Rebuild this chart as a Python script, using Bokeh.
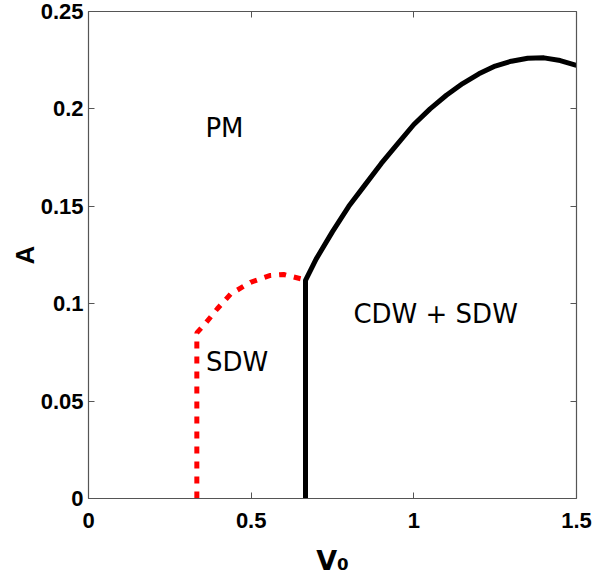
from bokeh.plotting import figure
from bokeh.models import LinearAxis, FixedTicker, Label, Range1d
from bokeh.embed import file_html
from bokeh.resources import INLINE

# ---- data ----
x_ticks = [0, 0.5, 1, 1.5]
x_tick_labels = ["0", "0.5", "1", "1.5"]
y_ticks = [0, 0.05, 0.1, 0.15, 0.2, 0.25]
y_tick_labels = ["0", "0.05", "0.1", "0.15", "0.2", "0.25"]

# SDW boundary (red dotted)
sdw_v = [0.333, 0.333, 0.36, 0.396, 0.437, 0.498, 0.559, 0.600, 0.652, 0.667]
sdw_a = [0.0, 0.085, 0.090, 0.0974, 0.105, 0.111, 0.1145, 0.115, 0.1128, 0.112]

# CDW + SDW boundary (black solid)
cdw_v = [0.667, 0.667, 0.70, 0.75, 0.80, 0.85, 0.90, 0.95, 1.00, 1.05, 1.10,
         1.15, 1.20, 1.25, 1.30, 1.35, 1.40, 1.45, 1.50]
cdw_a = [0.0, 0.112, 0.123, 0.137, 0.150, 0.161, 0.172, 0.182, 0.192, 0.200, 0.207,
         0.213, 0.218, 0.222, 0.2245, 0.226, 0.2262, 0.2248, 0.2223]

region_names = ["PM", "SDW", "CDW + SDW"]
region_v = [0.418, 0.4565, 1.067]
region_a = [0.190, 0.070, 0.0945]

x_title = "V\u2080"
y_title = "A"

AX = "#555555"

p = figure(width=606, height=588, output_backend="svg", toolbar_location=None,
           x_range=Range1d(0, 1.5), y_range=Range1d(0, 0.25),
           min_border_left=88, min_border_right=30, min_border_top=11, min_border_bottom=90)
p.xgrid.visible = False
p.ygrid.visible = False
p.outline_line_color = None

p.line(sdw_v, sdw_a, line_color="#ff0000", line_width=5, line_dash="7 8")
p.line(cdw_v, cdw_a, line_color="black", line_width=5)

for name, v, a in zip(region_names, region_v, region_a):
    p.add_layout(Label(x=v, y=a, text=name, text_align="center", text_baseline="middle",
                       text_font="DejaVu Sans", text_font_size="26px", text_color="black"))

def style(ax, ticks, labels, show_labels=True):
    ax.ticker = FixedTicker(ticks=ticks)
    ax.major_tick_in = 6
    ax.major_tick_out = 0
    ax.minor_tick_line_color = None
    ax.axis_line_color = AX
    ax.major_tick_line_color = AX
    ax.axis_line_width = 1.2
    ax.major_label_text_font = "Liberation Sans"
    ax.major_label_text_font_style = "bold"
    ax.major_label_text_color = "black"
    if show_labels:
        ax.major_label_overrides = {t: l for t, l in zip(ticks, labels)}
        ax.major_label_text_font_size = "22px"
    else:
        ax.major_label_overrides = {t: "" for t in ticks}
        ax.major_label_text_font_size = "1px"
        ax.major_label_standoff = 0

xa = p.xaxis[0]
style(xa, x_ticks, x_tick_labels)
xa.major_label_standoff = 14
xa.axis_label = x_title
xa.axis_label_text_font = "DejaVu Sans"
xa.axis_label_text_font_style = "bold"
xa.axis_label_text_font_size = "27px"
xa.axis_label_text_color = "black"
xa.axis_label_standoff = 14

ya = p.yaxis[0]
style(ya, y_ticks, y_tick_labels)
ya.major_label_standoff = 5
ya.axis_label = y_title
ya.axis_label_text_font = "Liberation Sans"
ya.axis_label_text_font_style = "bold"
ya.axis_label_text_font_size = "26px"
ya.axis_label_text_color = "black"
ya.axis_label_standoff = -2

top = LinearAxis()
style(top, x_ticks, x_tick_labels, show_labels=False)
p.add_layout(top, "above")
right = LinearAxis()
style(right, y_ticks, y_tick_labels, show_labels=False)
p.add_layout(right, "right")

open("out.html", "w").write(file_html(p, INLINE))
